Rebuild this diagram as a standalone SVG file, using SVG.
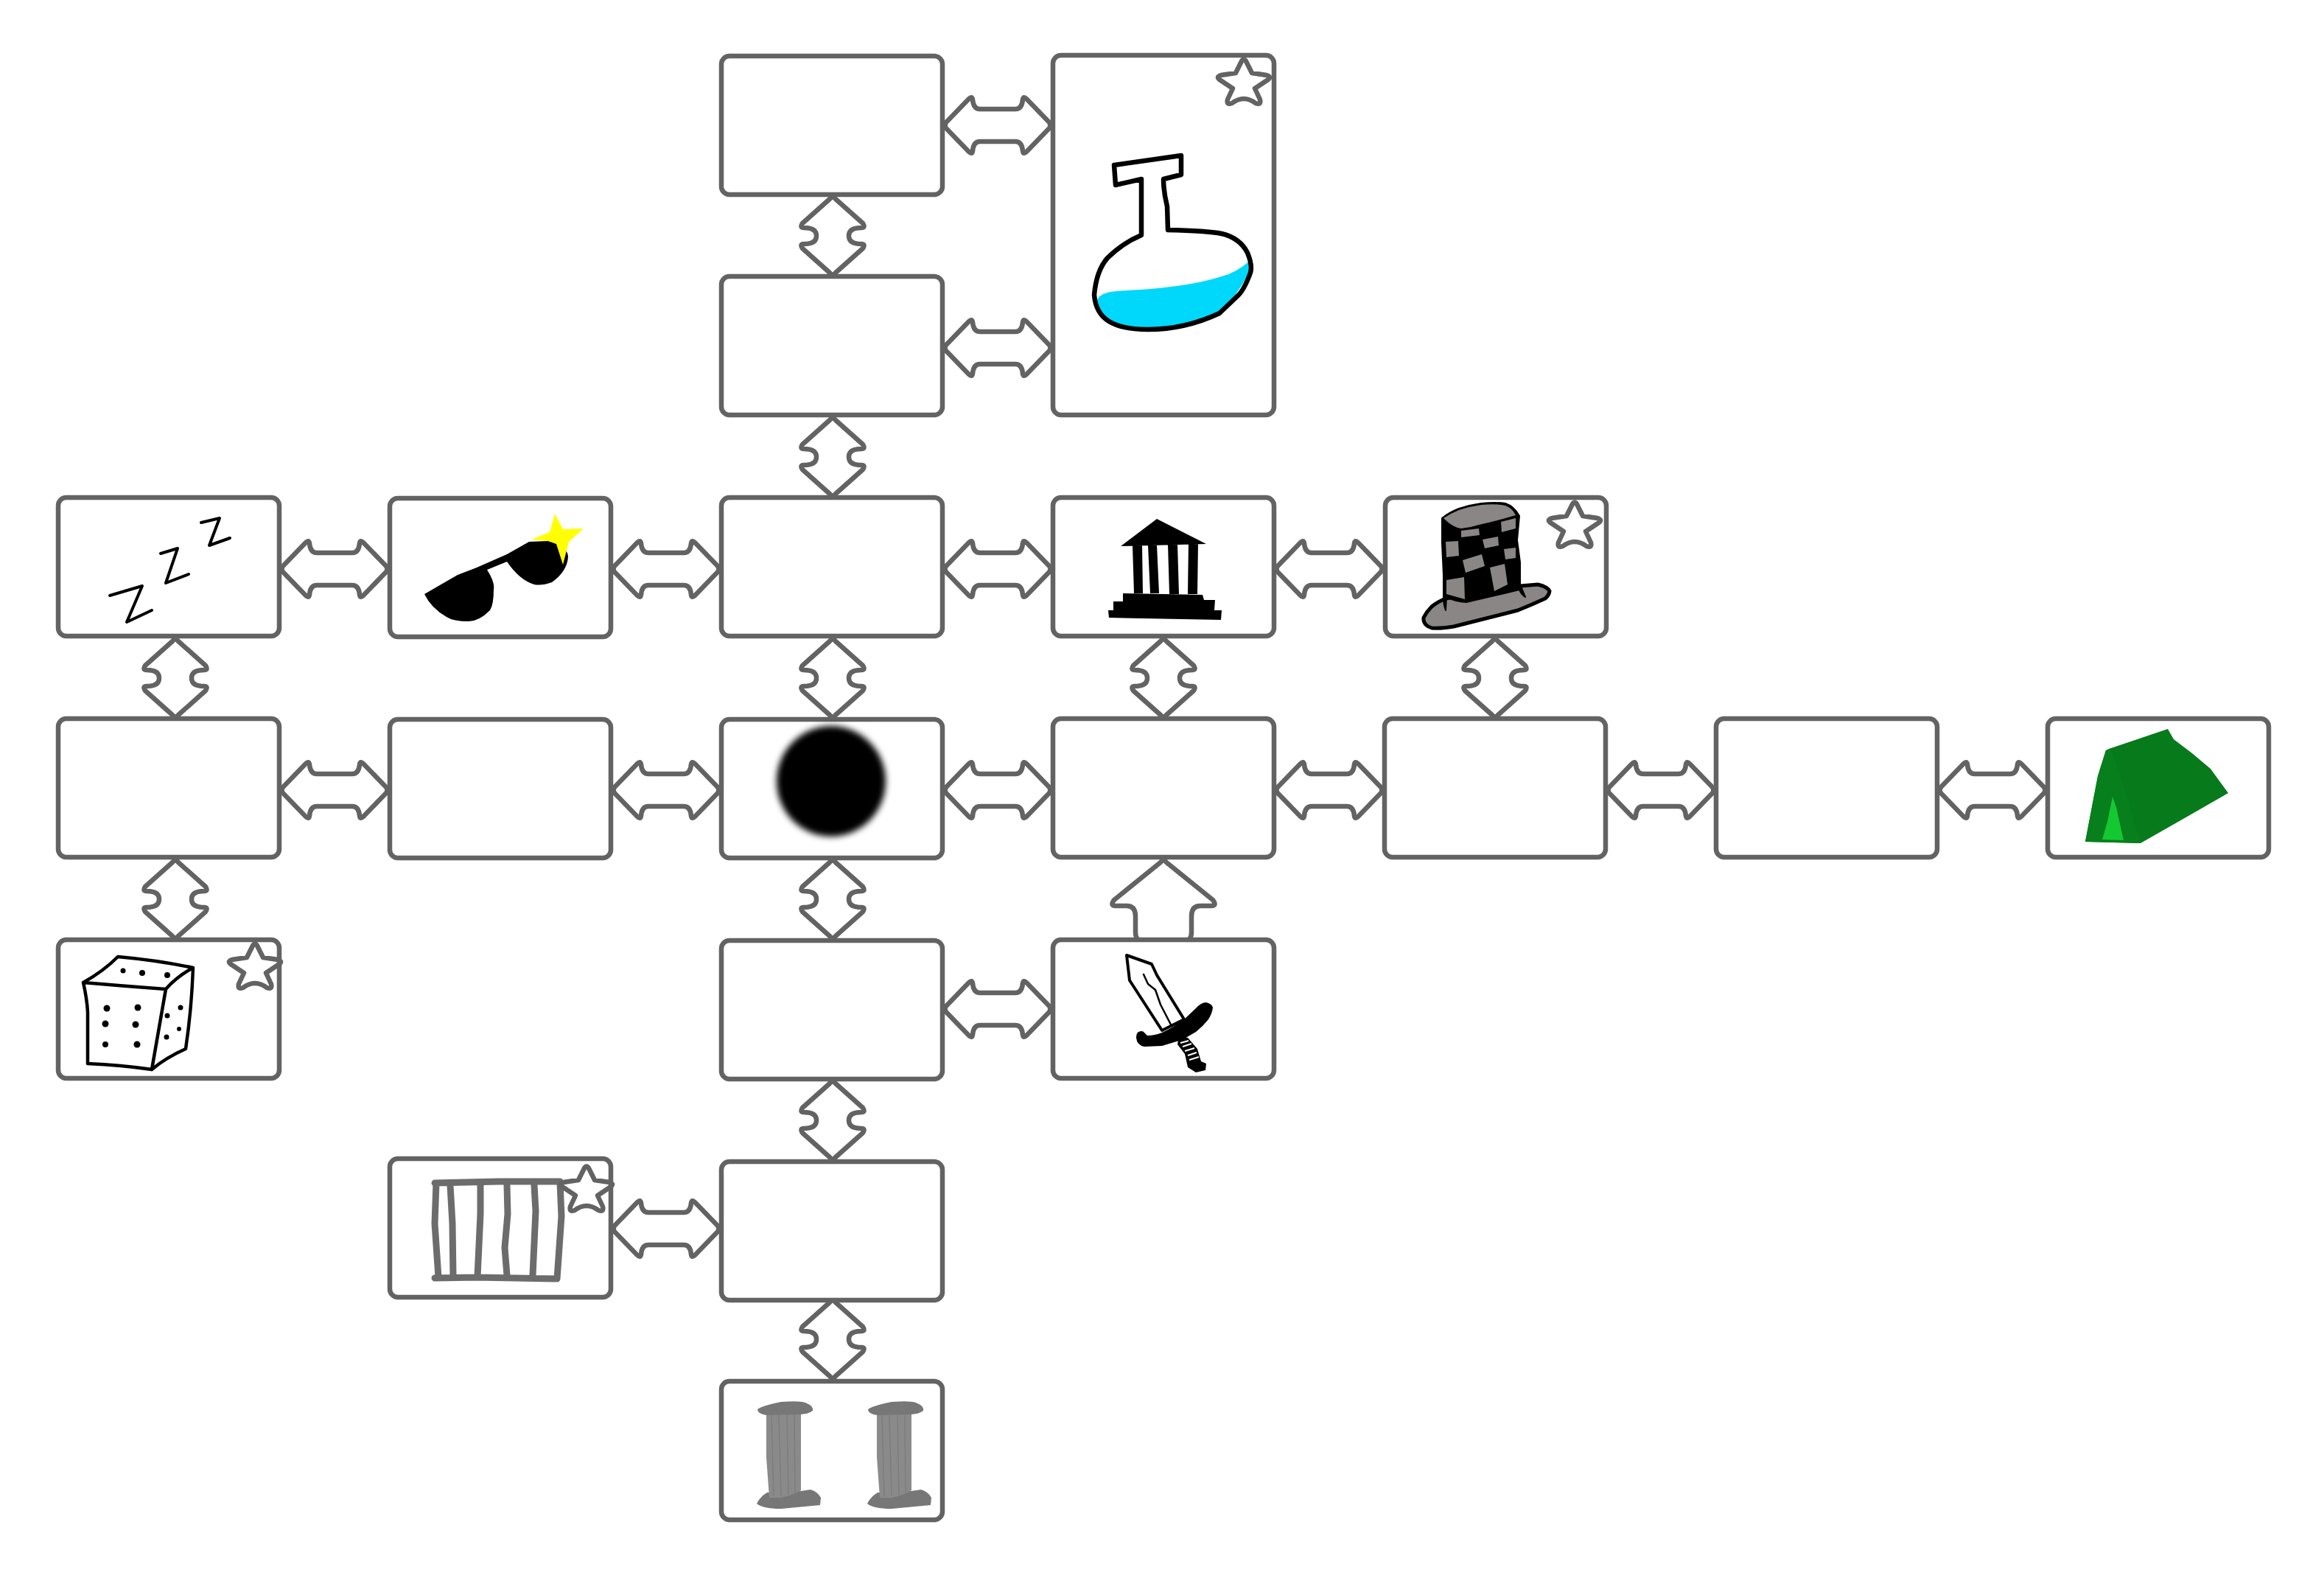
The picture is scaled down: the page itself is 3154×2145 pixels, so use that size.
<svg xmlns="http://www.w3.org/2000/svg" width="3154" height="2145" viewBox="0 0 3154 2145">
<style>
.box{fill:#fff;stroke:#636363;stroke-width:6.5}
.arrow{fill:#fff;stroke:#636363;stroke-width:6.5;stroke-linejoin:round}
.star{fill:none;stroke:#636363;stroke-width:6.5;stroke-linejoin:round}
.ink{fill:none;stroke:#000;stroke-linejoin:round;stroke-linecap:round}
.bar{fill:none;stroke:#6c6c6c;stroke-width:9;stroke-linejoin:round;stroke-linecap:round}
</style>
<defs>
<path id="h" class="arrow" d="M-70,-4 L-39,-36 Q-35,-40 -34,-35 Q-33,-22 -24,-22 L24,-22 Q33,-22 34,-35 Q35,-40 39,-36 L70,-4 Q73,0 70,4 L39,36 Q35,40 34,35 Q33,22 24,22 L-24,22 Q-33,22 -34,35 Q-35,40 -39,36 L-70,4 Q-73,0 -70,-4Z"/>
<path id="v" class="arrow" d="M-4,-50 Q0,-55 4,-50 L41,-17 Q45,-11 39,-11 Q22,-11 22,0 Q22,11 39,11 Q45,11 41,17 L4,50 Q0,55 -4,50 L-41,17 Q-45,11 -39,11 Q-22,11 -22,0 Q-22,-11 -39,-11 Q-45,-11 -41,-17Z"/>
<path id="s" class="star" d="M-3,-27 Q0,-32 3,-27 L11,-11 L31,-8 Q38,-6 33,-2 L15,10 L22,25 Q24,33 16,30 Q0,18 -16,30 Q-24,33 -22,25 L-15,10 L-33,-2 Q-38,-6 -31,-8 L-11,-11Z"/>
<g id="pillar">
<path fill="#777" d="M1027,2040 Q1032,2030 1041,2025 L1086,2023 L1100,2021 Q1110,2024 1114,2032 L1113,2042 L1060,2047 Q1035,2047 1027,2040Z"/>
<path fill="#8a8a8a" d="M1040,1917 L1087,1916 L1087,2022 Q1075,2029 1060,2032 L1044,2032 L1040,1977Z"/>
<path stroke="#7d7d7d" stroke-width="1.5" fill="none" d="M1047,1920 L1050,2030 M1057,1920 L1060,2030 M1068,1920 L1070,2028 M1078,1920 L1079,2025"/>
<path fill="#777" d="M1028,1912 Q1035,1907 1060,1902 Q1085,1900 1093,1903 Q1105,1908 1103,1914 Q1098,1918 1087,1919 L1040,1920 Q1028,1918 1028,1912Z"/>
</g>
<filter id="blur" x="-20%" y="-20%" width="140%" height="140%"><feGaussianBlur stdDeviation="4"/></filter>
</defs>
<g id="connectors">
<use href="#h" x="1354" y="170"/><use href="#h" x="1354" y="472"/>
<use href="#h" x="454" y="772"/><use href="#h" x="904" y="772"/><use href="#h" x="1354" y="772"/><use href="#h" x="1804" y="772"/>
<use href="#h" x="454" y="1072"/><use href="#h" x="904" y="1072"/><use href="#h" x="1354" y="1072"/><use href="#h" x="1804" y="1072"/><use href="#h" x="2254" y="1072"/><use href="#h" x="2704" y="1072"/>
<use href="#h" x="1354" y="1369"/><use href="#h" x="904" y="1667"/>
<use href="#v" x="1130" y="320"/><use href="#v" x="1130" y="620"/>
<use href="#v" x="238" y="920"/><use href="#v" x="1130" y="920"/><use href="#v" x="1579" y="920"/><use href="#v" x="2029" y="920"/>
<use href="#v" x="238" y="1220"/><use href="#v" x="1130" y="1220"/><use href="#v" x="1130" y="1520"/><use href="#v" x="1130" y="1817"/>
<path class="arrow" d="M1575,1170 Q1579,1165 1583,1170 L1646,1221 Q1652,1229 1644,1229 L1629,1229 Q1617,1229 1617,1243 L1617,1265 Q1617,1273 1611,1278 L1547,1278 Q1541,1273 1541,1265 L1541,1243 Q1541,1229 1529,1229 L1514,1229 Q1506,1229 1512,1221Z"/>
</g>
<g id="node-r1c3"><rect class="box" x="979" y="76" width="300" height="188" rx="11"/></g>
<g id="node-flask"><rect class="box" x="1429" y="75" width="300" height="488" rx="11"/>
<g transform="translate(-2,0)">
<path fill="#00d8fb" d="M1699,353 Q1680,370 1660,375 Q1620,388 1550,393 Q1510,395 1505,397 Q1492,400 1490,410 Q1492,430 1515,442 Q1540,448 1560,447 Q1610,445 1657,425 Q1680,403 1698,368Z"/>
<path class="ink" stroke-width="6.5" d="M1514,224 L1605,211 L1605,237 L1581,243 Q1581,260 1586,280 L1587,312 Q1640,313 1660,317 Q1685,323 1695,343 Q1702,360 1699,370 Q1690,395 1680,403 L1657,425 Q1610,447 1560,447 Q1525,447 1507,436 Q1489,425 1487,400 Q1490,367 1505,350 Q1525,330 1551,319 L1551,243 L1516,251Z"/>
<use href="#s" x="1690" y="110"/></g></g>
<g id="node-r2c3"><rect class="box" x="979" y="375" width="300" height="188" rx="11"/></g>
<g id="node-zzz"><rect class="box" x="79" y="675" width="300" height="188" rx="11"/>
<path class="ink" stroke-width="4" d="M149,808 L193,795 L172,844 L206,828"/>
<path class="ink" stroke-width="4" d="M218,751 L241,744 L225,791 L256,779"/>
<path class="ink" stroke-width="4" d="M273,709 L298,703 L284,740 L312,730"/></g>
<g id="node-glasses"><rect class="box" x="529" y="676" width="300" height="188" rx="11"/>
<path fill="#000" d="M576,806 L621,780 L647,770 L688,752 L718,735 L744,734 Q770,740 771,755 Q770,775 749,790 Q735,795 725,793 Q705,787 688,762 L661,773 Q672,790 670,800 Q670,820 665,828 Q650,843 636,843 Q615,843 606,837 Q585,825 576,806Z"/>
<path fill="#ff0" d="M753,697 L764,718 L792,717 L772,735 L764,766 L755,738 L744,734 L721,732 L746,722Z"/></g>
<g id="node-r3c3"><rect class="box" x="979" y="675" width="300" height="188" rx="11"/></g>
<g id="node-temple"><rect class="box" x="1429" y="675" width="300" height="188" rx="11"/>
<path fill="#000" d="M1570,704 L1637,738 L1521,741Z M1537,740 L1550,740 L1551,805 L1539,805Z M1558,740 L1570,739 L1573,805 L1561,805Z M1585,738 L1598,738 L1600,806 L1587,806Z M1613,737 L1626,737 L1625,806 L1612,806Z M1524,805 L1632,807 L1634,814 L1649,814 L1648,828 L1658,828 L1657,841 L1505,838 L1504,828 L1511,828 L1511,816 L1524,816Z"/></g>
<g id="node-hat"><rect class="box" x="1880" y="675" width="300" height="188" rx="11"/>
<path fill="#8a8686" stroke="#000" stroke-width="5" stroke-linejoin="round" d="M1932,838 Q1936,830 1943,823 Q1950,817 1962,812 L2063,795 L2087,793 Q2100,796 2103,802 Q2102,808 2097,812 Q2080,820 2060,828 L1973,850 Q1955,853 1943,852 Q1931,848 1932,838Z"/>
<path fill="#000" stroke="#000" stroke-width="2" stroke-linejoin="round" d="M1957,703 Q1967,695 1980,690 Q1995,685 2010,683 Q2030,681 2043,683 Q2055,687 2062,700 L2059,733 L2063,763 L2063,793 L2070,810 Q2064,806 2062,800 Q2030,808 1990,817 Q1975,816 1963,810 L1962,828 Q1959,820 1959,810 L1959,780 L1957,737Z"/>
<path fill="#8a8686" d="M1959,703 Q1970,696 1980,692 Q1995,687 2010,685 Q2030,683 2043,686 Q2052,689 2057,699 Q2030,707 2007,712 Q1995,716 1983,717 Q1972,716 1959,703Z"/>
<path fill="#8a8686" d="M1983,720 L2007,717 L2008,726 L1983,729Z M2037,708 L2057,703 L2057,717 L2038,722Z M1962,735 L1979,734 L1980,754 L1963,756Z M2012,732 L2033,728 L2034,740 L2015,744Z M2041,745 L2057,743 L2057,757 L2043,759Z M1985,760 L2011,752 L2015,768 L1989,777Z M2022,770 L2042,765 L2046,793 L2028,802Z M1963,787 L1987,783 L1988,813 L1963,806Z"/>
<use href="#s" x="2137" y="711"/></g>
<g id="node-r4c1"><rect class="box" x="79" y="975" width="300" height="188" rx="11"/></g>
<g id="node-r4c2"><rect class="box" x="529" y="976" width="300" height="188" rx="11"/></g>
<g id="node-hole"><rect class="box" x="979" y="976" width="300" height="188" rx="11"/>
<ellipse cx="1128" cy="1060" rx="74" ry="75" fill="#000" filter="url(#blur)"/></g>
<g id="node-r4c4"><rect class="box" x="1429" y="975" width="300" height="188" rx="11"/></g>
<g id="node-r4c5"><rect class="box" x="1879" y="975" width="300" height="188" rx="11"/></g>
<g id="node-r4c6"><rect class="box" x="2329" y="975" width="300" height="188" rx="11"/></g>
<g id="node-tent"><rect class="box" x="2779" y="975" width="300" height="188" rx="11"/>
<path fill="#077a1b" d="M2830,1142 L2847,1053 L2858,1018 L2865,1015 L2942,989 L2950,1003 L2975,1022 L3000,1043 L3024,1076 L2970,1107 L2905,1144Z"/>
<path fill="#067f1c" d="M2830,1142 L2847,1053 L2858,1018 L2865,1015 L2885,1075 L2905,1144Z"/>
<path fill="#14c832" d="M2867,1081 L2872,1095 L2882,1140 L2853,1139 L2860,1115Z"/></g>
<g id="node-dice"><rect class="box" x="79" y="1275" width="300" height="188" rx="11"/>
<path class="ink" stroke-width="4.5" d="M113,1333 Q140,1318 160,1298 Q215,1303 262,1313 Q240,1325 225,1342 Q170,1338 113,1333 Q118,1355 119,1373 L119,1443 Q165,1445 206,1451 L225,1342 M262,1313 Q260,1370 252,1423 Q225,1435 206,1451"/>
<g fill="#000"><circle cx="167" cy="1317" r="3.5"/><circle cx="193" cy="1320" r="4"/><circle cx="227" cy="1323" r="4"/><circle cx="145" cy="1368" r="4.5"/><circle cx="187" cy="1367" r="4.5"/><circle cx="143" cy="1389" r="4.5"/><circle cx="184" cy="1390" r="4.5"/><circle cx="143" cy="1417" r="4"/><circle cx="186" cy="1417" r="4.5"/><circle cx="245" cy="1367" r="3.5"/><circle cx="227" cy="1378" r="3.5"/><circle cx="243" cy="1396" r="3"/><circle cx="226" cy="1407" r="3.5"/></g>
<use href="#s" x="346" y="1310"/></g>
<g id="node-r5c3"><rect class="box" x="979" y="1276" width="300" height="188" rx="11"/></g>
<g id="node-sword"><rect class="box" x="1429" y="1275" width="300" height="188" rx="11"/>
<path class="ink" stroke-width="4" d="M1529,1296 L1563,1308 L1570,1323 L1607,1383 L1577,1398 L1533,1330Z"/>
<path class="ink" stroke-width="2.5" d="M1552,1322 L1558,1335 L1568,1343 L1575,1363 L1590,1392"/>
<path fill="#000" d="M1598,1417 L1600,1405 L1612,1408 L1625,1423 L1630,1440 L1637,1443 L1636,1452 L1623,1455 L1612,1448 L1608,1430Z"/>
<path stroke="#fff" stroke-width="2" d="M1602,1415 L1613,1412 M1605,1420 L1617,1416 M1608,1426 L1621,1422 M1612,1432 L1624,1428 M1614,1438 L1627,1434"/>
<path fill="#000" d="M1542,1408 Q1542,1402 1545,1400 Q1550,1398 1552,1400 L1557,1405 Q1567,1405 1577,1401 Q1592,1394 1607,1383 L1623,1368 Q1630,1360 1637,1360 Q1645,1362 1646,1367 Q1645,1375 1640,1383 Q1633,1392 1623,1400 Q1612,1407 1600,1412 L1577,1419 L1553,1420 Q1543,1418 1542,1408Z"/></g>
<g id="node-bars"><rect class="box" x="529" y="1572" width="300" height="188" rx="11"/>
<path class="bar" d="M590,1605 L677,1603 L760,1603 M590,1734 L647,1733 L753,1735 M592,1605 L590,1660 L595,1733 M611,1608 L614,1660 L615,1732 M652,1608 L652,1647 L648,1732 M688,1608 L689,1647 L685,1693 L688,1730 M725,1608 L727,1643 L723,1730 M760,1605 L762,1650 L756,1735"/>
<use href="#s" x="796" y="1612"/></g>
<g id="node-r6c3"><rect class="box" x="979" y="1576" width="300" height="188" rx="11"/></g>
<g id="node-pillars"><rect class="box" x="979" y="1874" width="300" height="188" rx="11"/>
<use href="#pillar"/><use href="#pillar" x="150"/></g>
</svg>
